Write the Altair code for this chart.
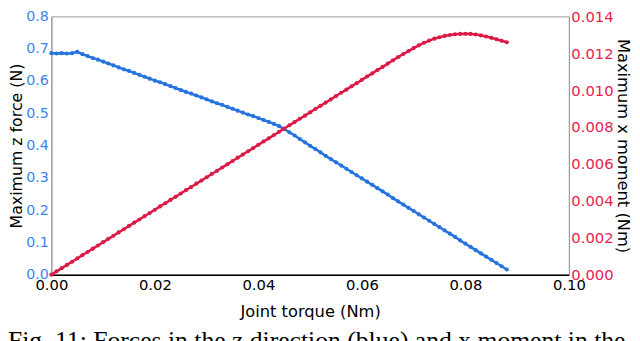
import altair as alt
import pandas as pd

# Joint torque (Nm), sampled every 0.001 from 0.000 to 0.088
torque = [round(i * 0.001, 3) for i in range(89)]

# Maximum z force (N) - blue series
z_force = [
    0.686, 0.685, 0.686, 0.685, 0.686, 0.690, 0.683, 0.677, 0.671, 0.666,
    0.660, 0.654, 0.648, 0.642, 0.636, 0.631, 0.625, 0.619, 0.613, 0.607,
    0.601, 0.596, 0.590, 0.584, 0.578, 0.572, 0.566, 0.561, 0.555, 0.549,
    0.543, 0.537, 0.531, 0.526, 0.520, 0.514, 0.508, 0.502, 0.496, 0.491,
    0.485, 0.479, 0.473, 0.467, 0.460, 0.451, 0.441, 0.431, 0.420, 0.410,
    0.399, 0.389, 0.379, 0.368, 0.358, 0.348, 0.338, 0.328, 0.318, 0.308,
    0.298, 0.288, 0.278, 0.268, 0.258, 0.248, 0.237, 0.227, 0.217, 0.207,
    0.197, 0.187, 0.177, 0.167, 0.157, 0.147, 0.137, 0.127, 0.117, 0.106,
    0.096, 0.086, 0.076, 0.066, 0.056, 0.046, 0.036, 0.026, 0.016,
]

# Maximum x moment (Nm) - red series
x_moment = [
    0.00000, 0.00018, 0.00035, 0.00053, 0.00070, 0.00088, 0.00106, 0.00123, 0.00141, 0.00158,
    0.00176, 0.00194, 0.00211, 0.00229, 0.00246, 0.00264, 0.00282, 0.00299, 0.00317, 0.00334,
    0.00352, 0.00370, 0.00387, 0.00405, 0.00422, 0.00440, 0.00458, 0.00475, 0.00493, 0.00510,
    0.00528, 0.00546, 0.00563, 0.00581, 0.00598, 0.00616, 0.00634, 0.00651, 0.00669, 0.00686,
    0.00704, 0.00722, 0.00739, 0.00757, 0.00774, 0.00792, 0.00810, 0.00827, 0.00845, 0.00862,
    0.00880, 0.00898, 0.00915, 0.00933, 0.00950, 0.00968, 0.00986, 0.01003, 0.01021, 0.01038,
    0.01056, 0.01074, 0.01091, 0.01109, 0.01126, 0.01144, 0.01162, 0.01179, 0.01196, 0.01212,
    0.01228, 0.01243, 0.01257, 0.01269, 0.01279, 0.01287, 0.01294, 0.01299, 0.01303, 0.01305,
    0.01306, 0.01305, 0.01302, 0.01297, 0.01291, 0.01284, 0.01276, 0.01268, 0.01260,
]

x_ticks = [0.0, 0.02, 0.04, 0.06, 0.08, 0.10]
left_ticks = [0.0, 0.1, 0.2, 0.3, 0.4, 0.5, 0.6, 0.7, 0.8]
right_ticks = [0.0, 0.002, 0.004, 0.006, 0.008, 0.010, 0.012, 0.014]
caption = ["Fig. 11:  Forces in the z direction (blue) and x moment in the"]

BLUE = "#2672de"
BLUE_LBL = "#3b86f2"
RED = "#dc1a48"
RED_LBL = "#e8244f"
FONT = "DejaVu Sans"

df = pd.DataFrame({"torque": torque, "force": z_force, "moment": x_moment})

x_enc = alt.X(
    "torque:Q",
    scale=alt.Scale(domain=[0, 0.1], nice=False),
    axis=alt.Axis(
        title="Joint torque (Nm)", values=x_ticks, format=".2f",
        labelFlush=False, ticks=False, labelPadding=3, grid=False,
        domainColor="black", domainWidth=1.5, titlePadding=11,
        labelFontSize=15, titleFontSize=16.5, titleFontWeight="normal",
        labelFont=FONT, titleFont=FONT, labelColor="black", titleColor="black",
    ),
)

blue = alt.Chart(df).mark_line(
    color=BLUE, strokeWidth=2.5,
    point=alt.OverlayMarkDef(color=BLUE, size=18, filled=True),
).encode(
    x=x_enc,
    y=alt.Y(
        "force:Q",
        scale=alt.Scale(domain=[0, 0.8], nice=False),
        axis=alt.Axis(
            title="Maximum z force (N)", orient="left", values=left_ticks,
            format=".1f", ticks=False, labelPadding=3, grid=False,
            domainColor="#999999", titlePadding=1,
            labelFontSize=14.5, titleFontSize=16, titleFontWeight="normal",
            labelFont=FONT, titleFont=FONT, labelColor=BLUE_LBL, titleColor="black",
            labelOverlap=False,
        ),
    ),
)

red = alt.Chart(df).mark_line(
    color=RED, strokeWidth=2.5,
    point=alt.OverlayMarkDef(color=RED, size=18, filled=True),
).encode(
    x=alt.X("torque:Q"),
    y=alt.Y(
        "moment:Q",
        scale=alt.Scale(domain=[0, 0.014], nice=False),
        axis=alt.Axis(
            title="Maximum x moment (Nm)", orient="right", values=right_ticks,
            format=".3f", ticks=False, labelPadding=2, grid=False,
            domainColor="#999999", titlePadding=1,
            labelFontSize=15, titleFontSize=16.5, titleFontWeight="normal",
            labelFont=FONT, titleFont=FONT, labelColor=RED_LBL, titleColor="black",
            labelOverlap=False,
        ),
    ),
)

cap = alt.Chart(pd.DataFrame({"t": caption})).mark_text(
    align="left", baseline="alphabetic", font="Liberation Serif",
    fontSize=26, color="black",
).encode(
    text="t:N",
    x=alt.value(-44),
    y=alt.value(337),
)

chart = alt.layer(blue, red, cap).resolve_scale(y="independent").properties(
    width=525, height=262,
    autosize=alt.AutoSizeParams(type="none"),
    padding={"left": 44, "top": 6, "right": 64, "bottom": 80},
).configure_view(stroke="#999999", strokeWidth=1)

chart.save("out.html", embed_options={"renderer": "svg", "actions": False})
